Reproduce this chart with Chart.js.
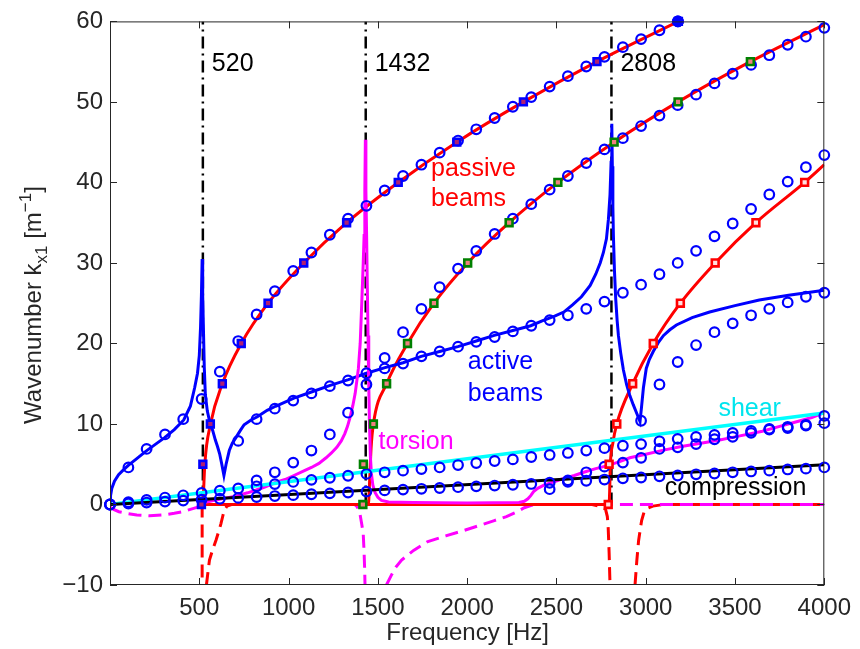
<!DOCTYPE html>
<html>
<head>
<meta charset="utf-8">
<script src="https://cdn.jsdelivr.net/npm/chart.js@4.4.0/dist/chart.umd.min.js"></script>
<style>
  html,body{margin:0;background:#fff}
  canvas{display:block}
</style>
</head>
<body>
<canvas id="chart" width="860" height="649"></canvas>
<script>
// ---------- values ----------
const xTicks = [500, 1000, 1500, 2000, 2500, 3000, 3500, 4000];
const yTicks = [-10, 0, 10, 20, 30, 40, 50, 60];
const vlineHz = [520, 1432, 2808];

// frequency grid of the circle markers
const gridHz = [0,103,205,308,410,513,615,718,821,923,1026,1128,1231,1333,1436,1538,1641,1744,1846,1949,
  2051,2154,2256,2359,2462,2564,2667,2769,2872,2974,3077,3179,3282,3385,3487,3590,3692,3795,3897,4000];

const circActiveLow = [0,4.6,6.9,8.7,10.6,13.1];
const circActive = [null,null,null,null,null,null,null,
  7.9,10.6,11.9,12.9,13.8,14.7,15.4,16.3,16.9,17.5,18.4,19.0,19.6,20.2,20.8,21.5,22.2,22.9,23.5,24.3,25.2,
  26.3,27.3,28.6,30.0,31.5,33.3,34.9,36.7,38.5,40.1,41.9,43.4];
const circActiveRight = [null,null,null,null,null,null,null,null,null,null,null,null,null,null,null,null,null,null,null,null,
  null,null,null,null,null,null,null,null,null,10.4,14.9,17.7,19.8,21.4,22.5,23.5,24.3,25.1,25.8,26.3];
const circPassive1 = [null,null,null,null,null,null,
  16.5,20.3,23.6,26.5,29.0,31.3,33.5,35.5,37.1,39.0,40.8,42.2,43.7,45.2,46.6,48.0,49.4,50.6,51.9,53.2,
  54.4,55.6,56.8,57.8,58.9,60.0];
const circPassive2 = [null,null,null,null,null,null,null,null,null,null,null,null,null,null,
  14.9,18.2,21.4,24.3,27.0,29.3,31.5,33.6,35.5,37.3,39.1,40.8,42.4,44.1,45.5,47.0,48.3,49.6,50.9,52.3,
  53.5,54.6,55.8,57.1,58.1,59.2];
const circShear = [0,0.29,0.57,0.86,1.14,1.43,1.71,1.99,2.26,2.53,2.8,3.06,3.32,3.57,3.8,4.0,4.2,4.4,4.6,4.9,
  5.15,5.4,5.6,5.9,6.15,6.4,6.7,7.0,7.3,7.5,7.85,8.15,8.4,8.65,8.9,9.15,9.4,9.65,9.9,10.1];
const circComp = [0,0.12,0.24,0.36,0.48,0.6,0.71,0.82,0.93,1.05,1.16,1.27,1.38,1.49,1.6,1.75,1.85,1.95,2.05,2.15,
  2.25,2.35,2.45,2.55,2.7,2.8,2.95,3.1,3.25,3.35,3.5,3.6,3.75,3.85,4.0,4.1,4.2,4.35,4.45,4.6];
const circTorsion = [null,null,null,null,null,null,null,null,
  3.0,4.0,5.2,6.7,8.7,11.4,null,null,null,null,null,null,null,null,null,null,
  1.9,3.0,4.0,4.7,5.2,5.8,6.9,7.1,7.5,8.1,8.4,8.9,9.3,9.5,9.8,11.0];

// square markers (k = 0, 5, 10, ...)
const sqBlueHz  = [512,520,562,629,735,885,1085,1325,1614,1942,2315,2727,3183];
const sqBlueK   = [0,5,10,15,20,25,30,35,40,45,50,55,60];
const sqGreenHz = [1416,1419,1475,1549,1666,1814,2003,2235,2508,2823,3181,3586];
const sqGreenK  = [0,5,10,15,20,25,30,35,40,45,50,55];
const sqRedHz   = [2790,2795,2838,2927,3042,3194,3389,3617,3890];
const sqRedK    = [0,5,10,15,20,25,30,35,40];

// passive beams (real part)
const passive1Hz = [521,531,563,629,735,885,1085,1325,1614,1942,2315,2727,3183];
const passive1K  = [0,5,10,15,20,25,30,35,40,45,50,55,60];
const passive2Hz = [520,1436,1448,1454,1462,1475,1549,1666,1814,2003,2235,2508,2823,3181,3586,4000];
const passive2K  = [0,0,0.3,3,7,10,15,20,25,30,35,40,45,50,55,59.6];
const passive3Hz = [1436,2795,2799,2802,2815,2838,2927,3042,3194,3389,3617,3890,4000];
const passive3K  = [0,0,2.5,5,7.5,10,15,20,25,30,35,40,42.2];

// passive beams (imaginary part, dashed)
const passImA_Hz = [516,516];
const passImA_K  = [0,-10];
const passImB_Hz = [540,548,557,575,594,608,621,632,640,655,680,2700,2740,2775,2785,2790,2795,2800];
const passImB_K  = [-10,-8.5,-6.9,-5.6,-4.4,-3.4,-2.4,-1.4,-0.7,-0.2,0,0,-0.2,-0.6,-1.5,-3,-6,-10];
const passImC_Hz = [2940,2950,2960,2970,2977,2990,3005,3040,3100,4000];
const passImC_K  = [-10,-7,-4.5,-3,-2,-1,-0.5,-0.2,0,0];

// active beams (real part)
const activeHz = [0,3,10,25,48,75,104,150,200,250,306,360,413,450,474,490,500,507,512,516,
  519,524,528,534,545,560,575,590,602,614,626,638,650,668,685,705,730,751,790,825,880,927,
  1030,1132,1233,1335,1436,1540,1641,1743,1846,1948,2051,2152,2256,2356,2420,2490,2541,2590,2640,
  2689,2720,2745,2763,2780,2791,2800,2806,2810,2813,2816,2819,2825,2832,2840,2847,2860,2875,2893,
  2910,2930,2950,2968,2976,2987,3003,3020,3042,3070,3100,3135,3172,3260,3358,3500,3636,3800,4000];
const activeK = [0,1.1,2.0,2.9,3.7,4.3,4.9,5.7,6.6,7.4,8.3,9.3,10.5,12.2,14.5,16.3,18.5,22,26,30.5,
  26,21,17,13.6,11.6,10.1,9.2,8.0,7.2,6.3,5.0,3.6,5.0,6.7,7.6,8.3,9.2,9.9,10.5,10.9,11.7,12.2,
  13.2,14.0,14.8,15.5,16.3,17.0,17.6,18.4,19.0,19.6,20.3,21.0,21.6,22.2,22.8,23.4,23.9,24.8,25.8,
  27.2,28.6,30.0,31.3,33.0,35.4,38.5,42.5,47.3,42,37,33.4,29,25.5,22.8,21,18.8,16.7,14.9,
  13.6,12.4,11.3,10.3,12.0,14.5,16.9,18.0,19.0,20.1,21.0,21.7,22.3,23.2,23.9,24.7,25.4,26.0,26.6];

// torsion (real part)
const torsionHz = [520,560,600,660,715,770,820,870,923,980,1030,1080,1128,1170,1210,1240,1270,1295,1315,1330,
  1344,1360,1373,1383,1391,1401,1410,1418,1423,1427,1430,1433,1437,1441,1445,1449,1453,1458,1464,1472,
  1484,1500,1520,1560,1700,2000,2290,2320,2340,2356,2372,2395,2430,2470,2523,2600,2653,2720,2781,2850,
  2911,3000,3100,3200,3283,3400,3500,3653,3750,3850,3930,4000];
const torsionK = [0.2,0.4,0.6,0.85,1.1,1.45,1.8,2.2,2.7,3.1,3.6,4.1,4.6,5.1,5.8,6.4,7.1,7.9,8.8,9.7,
  10.8,12.3,13.8,15.5,16.9,20,25.1,30,33.4,39,45.3,39,33.4,27,21,15,10,6,3.8,2.4,
  1.5,0.9,0.5,0.3,0.25,0.2,0.25,0.4,0.7,1.1,1.6,2.0,2.4,2.7,3.1,3.6,4.0,4.45,4.8,5.3,
  5.8,6.25,6.75,7.2,7.5,7.95,8.4,9.1,9.7,10.3,10.8,11.4];

// torsion (imaginary part, dashed)
const torsImA_Hz = [0,20,50,93,150,222,300,360,408,450,482,510,530,1370,1385,1400,1410,1418,1423,1426,1428];
const torsImA_K  = [-0.3,-0.6,-0.9,-1.1,-1.3,-1.4,-1.3,-1.1,-0.9,-0.6,-0.4,-0.1,0,0,-0.3,-1.2,-2.5,-3.6,-6,-8,-10];
const torsImB_Hz = [1548,1575,1600,1633,1700,1780,1880,1985,2070,2152,2220,2280,2320,2360,2400,4000];
const torsImB_K  = [-10,-8.8,-7.8,-6.9,-5.7,-4.6,-3.9,-3.2,-2.6,-2.0,-1.5,-0.9,-0.4,-0.1,0,0];

// shear and compression
const shearHz = [0,4000];
const shearK  = [0,11.35];
const compHz  = [0,4000];
const compK   = [0,4.95];

// ---------- text placed in data coordinates ----------
const notes = [
  { text:'passive', hz:1798, k:40.8, color:'#ff0000' },
  { text:'beams',   hz:1798, k:37.1, color:'#ff0000' },
  { text:'active',  hz:2004, k:16.8, color:'#0000ff' },
  { text:'beams',   hz:2004, k:12.85, color:'#0000ff' },
  { text:'torsion', hz:1504, k:6.95, color:'#ff00ff' },
  { text:'shear',   hz:3407, k:11.0, color:'#00e5ee' },
  { text:'compression', hz:3106, k:1.15, color:'#000000' }
];

const FONT = "'Liberation Sans', Arial, sans-serif";
const BLUE = '#0000ff', RED = '#ff0000', MAG = '#ff00ff', CYAN = '#00ffff', GREEN = '#008000';

const pts = (xs, ys) => xs.map((x, i) => ({ x, y: ys[i] })).filter(p => p.y !== null && p.y !== undefined);

function curve(xs, ys, color, extra){
  return { data: pts(xs, ys), showLine: true, borderColor: color, backgroundColor: color,
    borderWidth: 3, pointRadius: 0, tension: 0, fill: false, ...extra };
}
function circles(ys){
  return { data: pts(gridHz, ys), showLine: false, clip: false, pointStyle: 'circle',
    pointRadius: 4.8, pointBorderWidth: 2.2, pointBorderColor: BLUE, pointBackgroundColor: 'rgba(0,0,0,0)' };
}
function squares(xs, ys, edge, fillc){
  return { data: pts(xs, ys), showLine: false, clip: false, pointStyle: 'rect',
    pointRadius: 4.8, pointBorderWidth: 2.6, pointBorderColor: edge, pointBackgroundColor: fillc };
}
const smooth = { cubicInterpolationMode: 'monotone' };
const dashed = { borderDash: [13, 7], borderWidth: 3 };

const datasets = [
  { data: [{ x: 3181, y: 60 }], showLine: false, clip: false, pointRadius: 5.5,
    pointBackgroundColor: BLUE, pointBorderColor: BLUE },
  squares(sqBlueHz, sqBlueK, BLUE, '#b02070'),
  squares(sqGreenHz, sqGreenK, GREEN, '#f08080'),
  squares(sqRedHz, sqRedK, RED, '#ffe0e0'),
  circles(circActiveLow),
  circles(circActive),
  circles(circActiveRight),
  circles(circPassive1),
  circles(circPassive2),
  circles(circShear),
  circles(circComp),
  circles(circTorsion),
  curve(compHz, compK, '#000000'),
  curve(shearHz, shearK, CYAN, { borderWidth: 3.5 }),
  curve(torsionHz, torsionK, MAG),
  curve(activeHz, activeK, BLUE),
  curve(passive1Hz, passive1K, RED, smooth),
  curve(passive2Hz, passive2K, RED, smooth),
  curve(passive3Hz, passive3K, RED, smooth),
  curve(torsImA_Hz, torsImA_K, MAG, dashed),
  curve(torsImB_Hz, torsImB_K, MAG, dashed),
  curve(passImA_Hz, passImA_K, RED, dashed),
  curve(passImB_Hz, passImB_K, RED, dashed),
  curve(passImC_Hz, passImC_K, RED, dashed),
  ...vlineHz.map(f => curve([f, f], [0, 60], '#000000', { borderDash: [12, 5, 2, 5], borderWidth: 2.5 }))
];

// frame, inward ticks, annotations and axis titles
const decorations = {
  id: 'decorations',
  afterDatasetsDraw(chart){
    const { ctx, chartArea: a, scales: { x, y } } = chart;
    ctx.save();
    ctx.strokeStyle = '#262626';
    ctx.lineWidth = 1;
    ctx.strokeRect(a.left + 0.5, a.top + 0.5, a.right - a.left - 1, a.bottom - a.top - 1);
    ctx.beginPath();
    xTicks.forEach(v => {
      const px = Math.round(x.getPixelForValue(v)) + 0.5;
      ctx.moveTo(px, a.bottom); ctx.lineTo(px, a.bottom - 7);
      ctx.moveTo(px, a.top); ctx.lineTo(px, a.top + 7);
    });
    yTicks.forEach(v => {
      const py = Math.round(y.getPixelForValue(v)) + 0.5;
      ctx.moveTo(a.left, py); ctx.lineTo(a.left + 7, py);
      ctx.moveTo(a.right, py); ctx.lineTo(a.right - 7, py);
    });
    ctx.stroke();

    ctx.font = '25px ' + FONT;
    ctx.textBaseline = 'alphabetic';
    ctx.textAlign = 'left';
    notes.forEach(n => {
      ctx.fillStyle = n.color;
      ctx.fillText(n.text, x.getPixelForValue(n.hz), y.getPixelForValue(n.k));
    });
    ctx.fillStyle = '#000';
    vlineHz.forEach(f => ctx.fillText(String(f), x.getPixelForValue(f) + 9, y.getPixelForValue(53.9)));

    // x title
    ctx.fillStyle = '#262626';
    ctx.font = '24px ' + FONT;
    ctx.textAlign = 'center';
    ctx.fillText('Frequency [Hz]', (a.left + a.right) / 2 + 0.5, 640);

    // y title with sub/superscript
    const parts = [
      { t: 'Wavenumber k', s: 24, dy: 0 },
      { t: 'x1', s: 17, dy: 6 },
      { t: ' [m', s: 24, dy: 0 },
      { t: '\u22121', s: 17, dy: -10 },
      { t: ']', s: 24, dy: 0 }
    ];
    ctx.textAlign = 'left';
    let total = 0;
    parts.forEach(p => { ctx.font = p.s + 'px ' + FONT; p.w = ctx.measureText(p.t).width; total += p.w; });
    ctx.translate(41, 305);
    ctx.rotate(-Math.PI / 2);
    let cx = -total / 2;
    parts.forEach(p => {
      ctx.font = p.s + 'px ' + FONT;
      ctx.fillText(p.t, cx, p.dy);
      cx += p.w;
    });
    ctx.restore();
  }
};

new Chart(document.getElementById('chart'), {
  type: 'scatter',
  data: { datasets },
  options: {
    responsive: false,
    animation: false,
    events: [],
    layout: { padding: { left: 0, right: 31, top: 17, bottom: 0 } },
    plugins: { legend: { display: false }, tooltip: { enabled: false } },
    scales: {
      x: {
        type: 'linear', min: 0, max: 4000,
        grid: { display: false, drawTicks: false }, border: { display: false },
        afterFit: s => { s.height = 64; },
        afterBuildTicks: s => { s.ticks = xTicks.map(v => ({ value: v })); },
        ticks: { autoSkip: false, maxRotation: 0, padding: 9, color: '#262626',
          font: { family: FONT, size: 24 }, callback: v => String(v) }
      },
      y: {
        type: 'linear', min: -10, max: 60,
        grid: { display: false, drawTicks: false }, border: { display: false },
        afterFit: s => { s.width = 110; },
        afterBuildTicks: s => { s.ticks = yTicks.map(v => ({ value: v })); },
        ticks: { autoSkip: false, padding: 7, color: '#262626',
          font: { family: FONT, size: 24 }, callback: v => String(v).replace('-', '\u2212') }
      }
    }
  },
  plugins: [decorations]
});
</script>
</body>
</html>
